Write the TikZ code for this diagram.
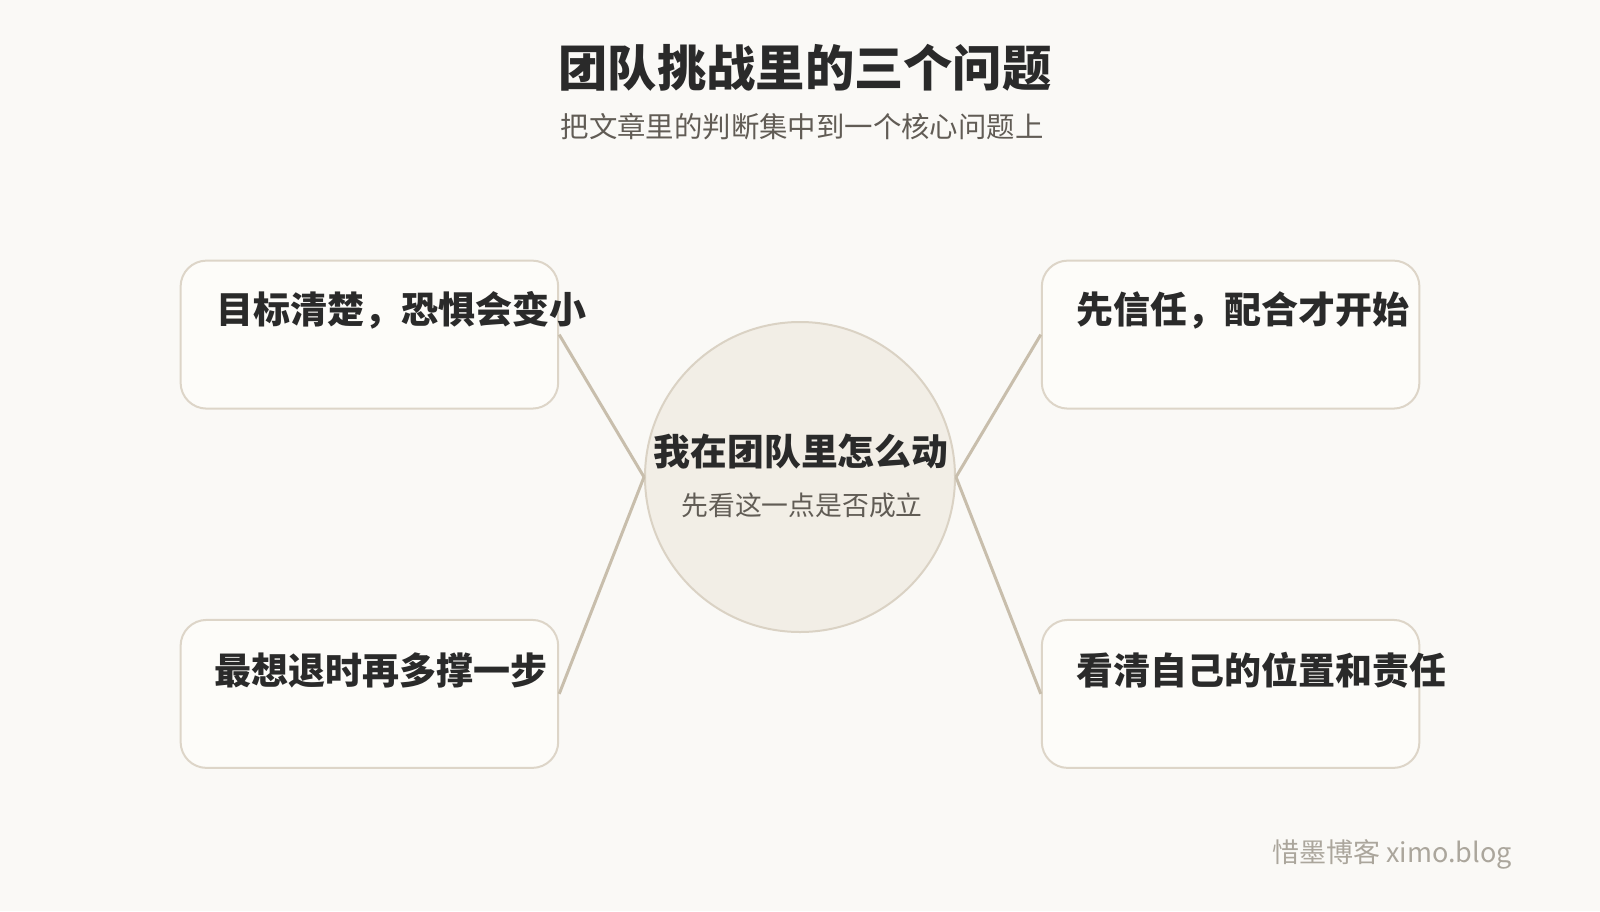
\documentclass[tikz,border=0pt]{standalone}
\usepackage{fontspec}
\newfontfamily\cjk{Noto Sans CJK SC}
\definecolor{bgc}{HTML}{FAF9F6}
\definecolor{boxfill}{HTML}{FDFCF9}
\definecolor{boxline}{HTML}{DDD5C8}
\definecolor{circfill}{HTML}{F2EEE6}
\definecolor{circline}{HTML}{DAD2C4}
\definecolor{linkc}{HTML}{C8BEAC}
\definecolor{darktxt}{HTML}{2A2A2A}
\definecolor{greytxt}{HTML}{615C55}
\definecolor{marktxt}{HTML}{ABA69C}
\tikzset{
  card/.style={draw=boxline, fill=boxfill, line width=2pt, rounded corners=26pt,
    minimum width=377.6pt, minimum height=148pt, inner sep=0pt},
  cardtext/.style={anchor=west, inner sep=0pt, text=darktxt,
    font=\cjk\bfseries\fontsize{37}{40}\selectfont},
  hub/.style={circle, draw=circline, fill=circfill, line width=2pt, minimum size=310pt, inner sep=0pt},
  link/.style={draw=linkc, line width=3pt},
}
\begin{document}
\begin{tikzpicture}[x=1pt,y=-1pt]
\useasboundingbox (0,0) rectangle (1600,911);
\fill[bgc] (0,0) rectangle (1600,911);

\node[inner sep=0pt, text=darktxt, font=\cjk\bfseries\fontsize{49.3}{52}\selectfont] (title) at (805,68) {团队挑战里的三个问题};
\node[inner sep=0pt, text=greytxt, font=\cjk\fontsize{28.4}{32}\selectfont] (subtitle) at (802,127) {把文章里的判断集中到一个核心问题上};

\node[hub] (hubc) at (800,477) {};
\node[inner sep=0pt, text=darktxt, font=\cjk\bfseries\fontsize{36.8}{40}\selectfont] (hubtitle) at (801,452) {我在团队里怎么动};
\node[inner sep=0pt, text=greytxt, font=\cjk\fontsize{26.8}{30}\selectfont] (hubsub) at (802,505) {先看这一点是否成立};

\node[card] (lt) at (369.4,334.6) {};
\node[card] (lb) at (369.4,693.9) {};
\node[card] (rt) at (1230.6,334.6) {};
\node[card] (rb) at (1230.6,693.9) {};

\draw[link] (lt.east) -- (hubc.west);
\draw[link] (lb.east) -- (hubc.west);
\draw[link] (rt.west) -- (hubc.east);
\draw[link] (rb.west) -- (hubc.east);

\node[cardtext] (ltt) at (216,310) {目标清楚，恐惧会变小};
\node[cardtext] (lbt) at (214.5,670) {最想退时再多撑一步};
\node[cardtext] (rtt) at (1076,310) {先信任，配合才开始};
\node[cardtext] (rbt) at (1076,670) {看清自己的位置和责任};

\node[anchor=east, inner sep=0pt, text=marktxt, font=\cjk\fontsize{27}{30}\selectfont] (mark) at (1512,854) {惜墨博客 ximo.blog};
\end{tikzpicture}
\end{document}
